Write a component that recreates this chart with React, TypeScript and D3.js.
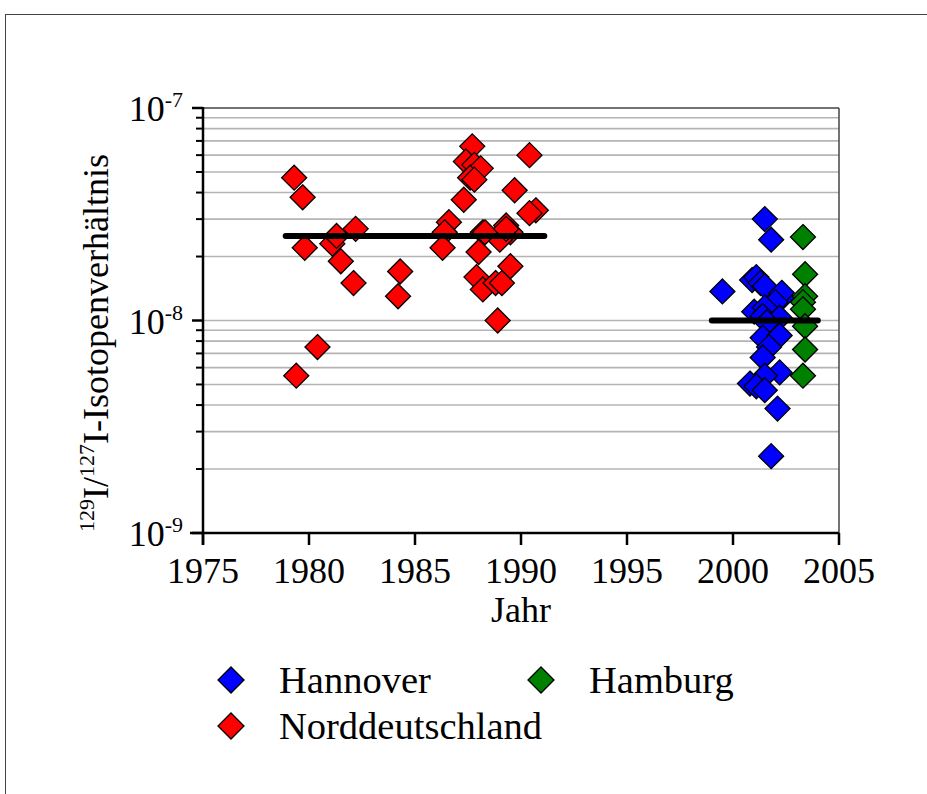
import React from 'react'
import * as d3 from 'd3'

// red: Norddeutschland, [year, ratio]
const nordYears = [1979.3, 1979.7, 1979.8, 1979.4, 1980.4, 1981.1, 1981.3, 1981.5, 1982.1, 1982.2, 1984.3, 1984.2,
  1987.7, 1990.4, 1987.4, 1987.8, 1988.1, 1987.6, 1987.8, 1989.7, 1987.3, 1990.7, 1990.4, 1986.6, 1986.4, 1986.3,
  1988.2, 1989.3, 1989.5, 1989.0, 1988.0, 1989.5, 1987.9, 1988.2, 1988.8, 1989.1, 1988.9, 1988.3, 1989.3]
const nordValues = [4.7e-8, 3.8e-8, 2.2e-8, 5.5e-9, 7.5e-9, 2.3e-8, 2.5e-8, 1.9e-8, 1.5e-8, 2.7e-8, 1.7e-8, 1.3e-8,
  6.6e-8, 6.0e-8, 5.6e-8, 5.4e-8, 5.2e-8, 4.7e-8, 4.6e-8, 4.1e-8, 3.7e-8, 3.3e-8, 3.2e-8, 2.9e-8, 2.6e-8, 2.2e-8,
  2.6e-8, 2.8e-8, 2.6e-8, 2.4e-8, 2.1e-8, 1.8e-8, 1.6e-8, 1.4e-8, 1.5e-8, 1.5e-8, 1.0e-8, 2.6e-8, 2.7e-8]

const hannYears = [1999.5, 2000.9, 2001.1, 2001.3, 2001.5, 2001.5, 2001.8, 2002.3, 2002.3, 2002.0, 2001.0, 2001.5,
  2001.4, 2002.2, 2001.6, 2001.4, 2002.2, 2001.7, 2001.4, 2002.2, 2001.5, 2000.8, 2001.1, 2001.5, 2002.1, 2001.8]
const hannValues = [1.37e-8, 1.55e-8, 1.6e-8, 1.5e-8, 1.45e-8, 3.0e-8, 2.4e-8, 1.28e-8, 1.35e-8, 1.22e-8, 1.1e-8, 1.15e-8,
  1.05e-8, 1.03e-8, 9.8e-9, 8.3e-9, 8.5e-9, 7.5e-9, 6.7e-9, 5.7e-9, 5.5e-9, 5.05e-9, 4.9e-9, 4.7e-9, 3.85e-9, 2.3e-9]

const hambYears = [2003.3, 2003.4, 2003.4, 2003.3, 2003.3, 2003.4, 2003.4, 2003.3]
const hambValues = [2.47e-8, 1.65e-8, 1.3e-8, 1.22e-8, 1.13e-8, 9.4e-9, 7.3e-9, 5.5e-9]

// mean lines [fromYear, toYear, value]
const meanLines = [[1978.9, 1991.1, 2.5e-8], [1999.0, 2004.0, 1.0e-8]]

const xTicks = [1975, 1980, 1985, 1990, 1995, 2000, 2005]
const yMajor = [1e-9, 1e-8, 1e-7]
const yExp = ['-9', '-8', '-7']

const legendItems = [
  {name: 'Hannover', color: '#0000ff'},
  {name: 'Hamburg', color: '#008000'},
  {name: 'Norddeutschland', color: '#ff0000'},
]

const font = '"Liberation Serif", "Times New Roman", serif'

function diamond(x: number, y: number, r: number) {
  return `M${x},${y - r}L${x + r},${y}L${x},${y + r}L${x - r},${y}Z`
}

export default function App() {
  const width = 927
  const height = 794
  const left = 203, right = 839, top = 108, bottom = 533

  const x = d3.scaleLinear().domain([1975, 2005]).range([left, right])
  const y = d3.scaleLog().domain([1e-9, 1e-7]).range([bottom, top])

  const minor: number[] = []
  for (const d of [1e-9, 1e-8]) {
    for (let k = 2; k <= 9; k++) minor.push(d * k)
  }

  const series = [
    {years: nordYears, values: nordValues, color: '#ff0000'},
    {years: hannYears, values: hannValues, color: '#0000ff'},
    {years: hambYears, values: hambValues, color: '#008000'},
  ]

  return (
    <svg width={width} height={height} style={{position: 'absolute', left: 0, top: 0, background: '#fff'}}
      fontFamily={font}>
      <rect x={5.5} y={14.5} width={1000} height={1000} fill="none" stroke="#444" strokeWidth={1} />

      {/* grid */}
      {minor.concat([1e-8]).map((v, i) => (
        <line key={'g' + i} x1={left} x2={right} y1={y(v)} y2={y(v)} stroke="#b4b4b4" strokeWidth={1.6} />
      ))}
      <line x1={left} x2={right} y1={top} y2={top} stroke="#444" strokeWidth={1.5} />
      <line x1={right} x2={right} y1={top} y2={bottom} stroke="#444" strokeWidth={1.5} />

      {/* y axis */}
      <line x1={left} x2={left} y1={top - 1} y2={bottom + 12} stroke="#000" strokeWidth={2.5} />
      {minor.map((v, i) => (
        <line key={'m' + i} x1={left - 7} x2={left} y1={y(v)} y2={y(v)} stroke="#000" strokeWidth={2} />
      ))}
      {yMajor.map((v, i) => (
        <g key={'y' + i}>
          <line x1={left - 11} x2={left} y1={y(v)} y2={y(v)} stroke="#000" strokeWidth={2.5} />
          <text x={183} y={y(v) + 13} textAnchor="end" fontSize={36}>
            10<tspan fontSize={22} dy={-14}>{yExp[i]}</tspan>
          </text>
        </g>
      ))}

      {/* x axis */}
      <line x1={left - 13} x2={right} y1={bottom} y2={bottom} stroke="#000" strokeWidth={2.5} />
      {xTicks.map(t => (
        <g key={t}>
          <line x1={x(t)} x2={x(t)} y1={bottom} y2={bottom + 12} stroke="#000" strokeWidth={2.5} />
          <text x={x(t)} y={583} textAnchor="middle" fontSize={36}>{t}</text>
        </g>
      ))}
      <text x={(left + right) / 2} y={622} textAnchor="middle" fontSize={36}>Jahr</text>

      <text transform={`translate(108,343) rotate(-90)`} textAnchor="middle" fontSize={36}>
        <tspan fontSize={22} dy={-14}>129</tspan>
        <tspan dy={14}>I/</tspan>
        <tspan fontSize={22} dy={-14}>127</tspan>
        <tspan dy={14}>I-Isotopenverhältnis</tspan>
      </text>

      {/* points */}
      {series.map((s, si) => (
        <g key={'s' + si}>
          {s.years.map((yr, i) => (
            <path key={i} d={diamond(x(yr), y(s.values[i]), 12.5)} fill={s.color} stroke="#000" strokeWidth={1.3} />
          ))}
        </g>
      ))}

      {/* mean lines */}
      {meanLines.map((m, i) => (
        <line key={'ml' + i} x1={x(m[0])} x2={x(m[1])} y1={y(m[2])} y2={y(m[2])} stroke="#000"
          strokeWidth={6} strokeLinecap="round" />
      ))}

      {/* legend */}
      {legendItems.map((it, i) => {
        const lx = i === 1 ? 541 : 231
        const ly = i === 2 ? 726 : 680
        return (
          <g key={it.name}>
            <path d={diamond(lx, ly, 13)} fill={it.color} stroke="#000" strokeWidth={1.3} />
            <text x={lx + 48} y={ly + 13} fontSize={38.5}>{it.name}</text>
          </g>
        )
      })}
    </svg>
  )
}
